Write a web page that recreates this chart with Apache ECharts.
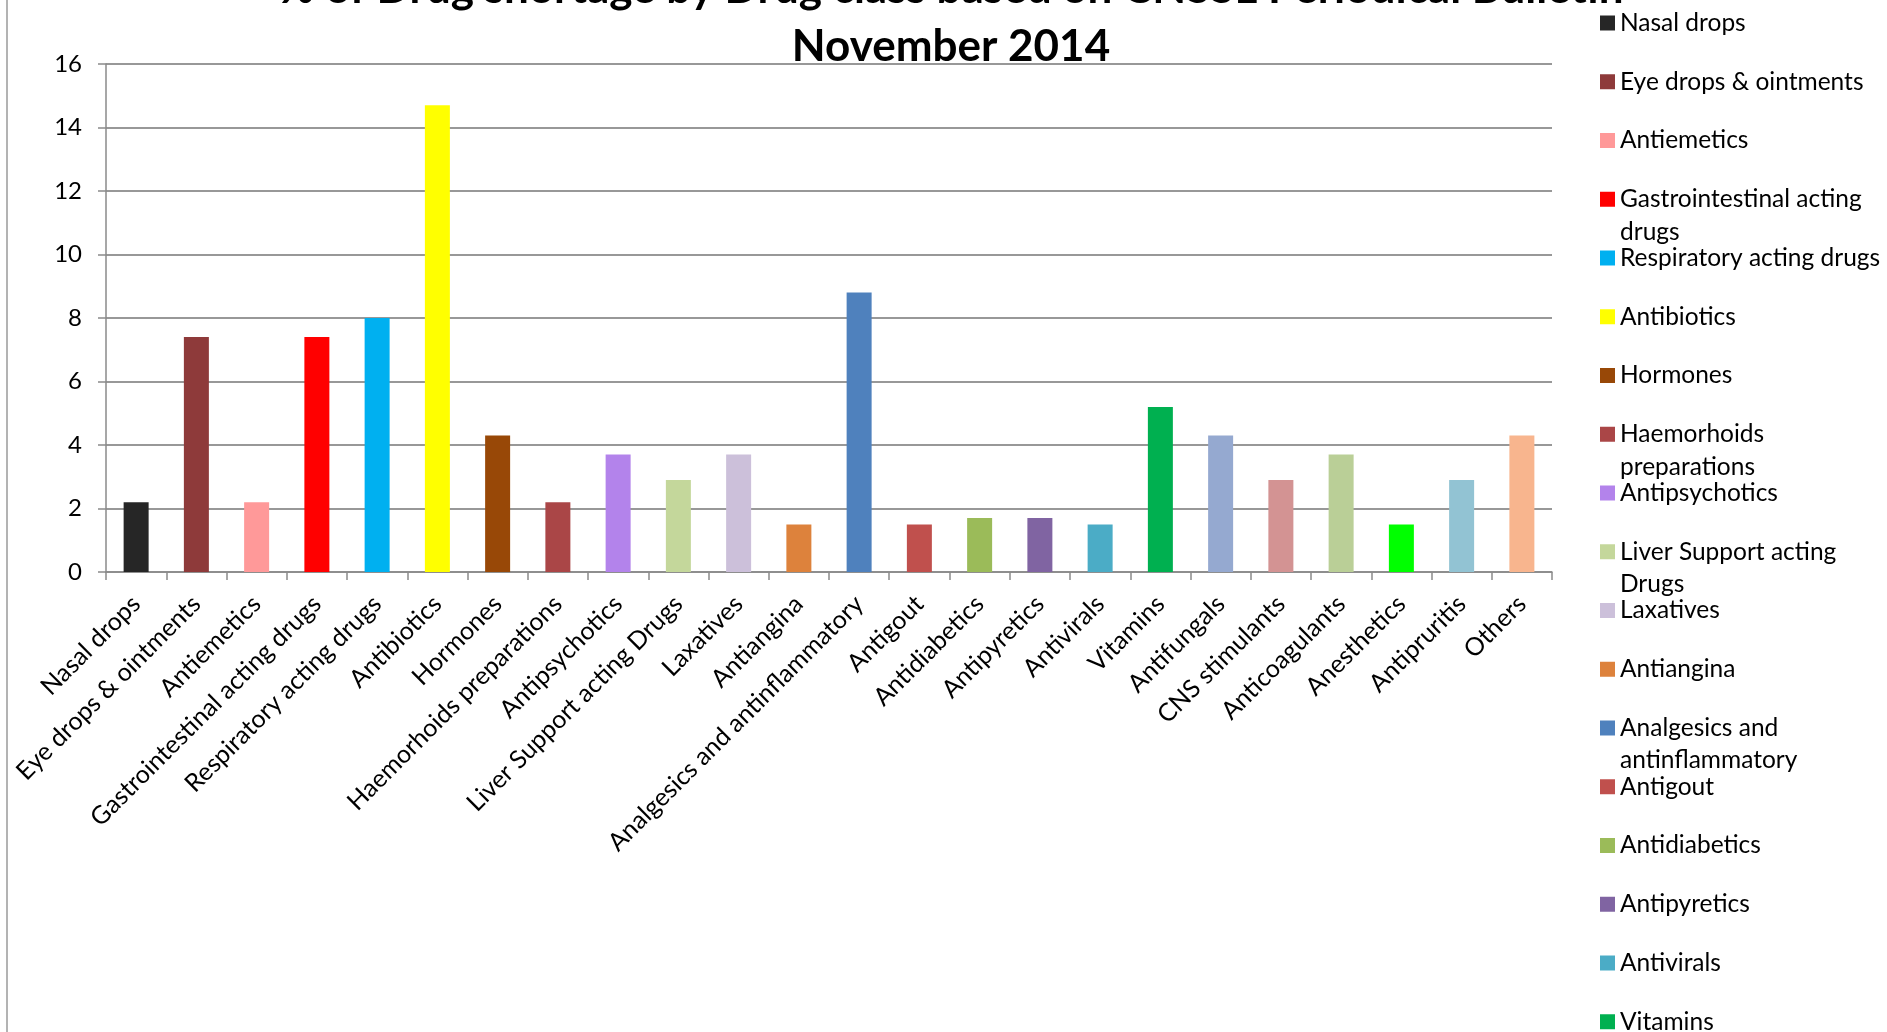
<!DOCTYPE html>
<html>
<head>
<meta charset="utf-8">
<script src="https://cdn.jsdelivr.net/npm/echarts@6/dist/echarts.min.js"></script>
<style>
html,body{margin:0;padding:0;background:#fff;}
#chart{width:1887px;height:1032px;}
</style>
</head>
<body>
<div id="chart"></div>
<script>
var categories = ["Nasal drops","Eye drops & ointments","Antiemetics","Gastrointestinal acting drugs","Respiratory acting drugs","Antibiotics","Hormones","Haemorhoids preparations","Antipsychotics","Liver Support acting Drugs","Laxatives","Antiangina","Analgesics and antinflammatory","Antigout","Antidiabetics","Antipyretics","Antivirals","Vitamins","Antifungals","CNS stimulants","Anticoagulants","Anesthetics","Antipruritis","Others"];
var values = [2.2,7.4,2.2,7.4,8.0,14.7,4.3,2.2,3.7,2.9,3.7,1.5,8.8,1.5,1.7,1.7,1.5,5.2,4.3,2.9,3.7,1.5,2.9,4.3];
var colors = ["#262626","#8E3A3A","#FF9999","#FF0000","#00B0F0","#FFFF00","#984807","#AA4647","#B383EB","#C4D79B","#CCC0DA","#DD823C","#4F81BD","#C0504D","#9BBB59","#8064A2","#4BACC6","#00B050","#95A9D0","#D39393","#BACF97","#00FF00","#92C3D3","#F8B58E"];
var yTicks = {min:0, max:16, interval:2};
// legend entries that wrap onto a second line: [first line, second line]
var legendWrap = {
  "Gastrointestinal acting drugs": ["Gastrointestinal acting", "drugs"],
  "Haemorhoids preparations": ["Haemorhoids", "preparations"],
  "Liver Support acting Drugs": ["Liver Support acting", "Drugs"],
  "Analgesics and antinflammatory": ["Analgesics and", "antinflammatory"]
};
var titleText = "% of Drug shortage by Drug class based on CNSSL Periodical Bulletin\nNovember 2014";

var LEG_LEFT = 1600, LEG_TOP = 7, LEG_LINE = 32, LEG_GAP = 26.75, LEG_FONT = 24.5, LEG_ICON = 15;

var series = categories.map(function(name, i){
  var d = categories.map(function(_, j){ return j === i ? values[i] : '-'; });
  return {
    name: name, type: 'bar', stack: 'all', data: d, barWidth: 25,
    itemStyle: {color: colors[i]}, emphasis: {disabled: true}
  };
});

var secondLines = [];
categories.forEach(function(name, i){
  if (legendWrap[name]) {
    secondLines.push({
      type: 'text', silent: true,
      x: LEG_LEFT + LEG_ICON + 5,
      y: LEG_TOP + LEG_LINE / 2 + i * (LEG_LINE + LEG_GAP) + 32.5,
      style: {text: legendWrap[name][1], fill: '#000', font: LEG_FONT + 'px Lato',
              textAlign: 'left', textVerticalAlign: 'middle'}
    });
  }
});

var chart = echarts.init(document.getElementById('chart'));
chart.setOption({
  animation: false,
  textStyle: {fontFamily: 'Lato'},
  title: {
    text: titleText, left: 951, textAlign: 'center', top: -40.5, padding: 0,
    textStyle: {fontFamily: 'Lato', fontWeight: 'bold', fontSize: 44, lineHeight: 58, color: '#000'}
  },
  legend: {
    orient: 'vertical', left: LEG_LEFT, top: LEG_TOP, padding: 0, height: 3000,
    itemWidth: LEG_ICON, itemHeight: LEG_ICON, itemGap: LEG_GAP, icon: 'rect',
    data: categories,
    formatter: function(n){ return legendWrap[n] ? legendWrap[n][0] : n; },
    textStyle: {fontFamily: 'Lato', fontSize: LEG_FONT, color: '#000', lineHeight: LEG_LINE},
    selectedMode: false
  },
  grid: {left: 106, right: 335, top: 64, bottom: 460, containLabel: false},
  xAxis: {
    type: 'category', data: categories,
    axisLine: {lineStyle: {color: '#8a8a8a', width: 1.5}},
    axisTick: {show: true, length: 8, lineStyle: {color: '#8a8a8a', width: 1.5}},
    axisLabel: {interval: 0, rotate: 45, fontSize: 25, color: '#000', fontFamily: 'Lato', margin: 28}
  },
  yAxis: {
    type: 'value', min: yTicks.min, max: yTicks.max, interval: yTicks.interval,
    axisLine: {show: true, lineStyle: {color: '#8a8a8a', width: 1.5}},
    axisTick: {show: true, length: 8, lineStyle: {color: '#8a8a8a', width: 1.5}},
    axisLabel: {fontSize: 24, color: '#000', fontFamily: 'Lato', margin: 24},
    splitLine: {lineStyle: {color: '#989898', width: 2}}
  },
  graphic: [{
    type: 'line', shape: {x1: 7, y1: 0, x2: 7, y2: 1032},
    style: {stroke: '#9a9a9a', lineWidth: 1.5}, silent: true
  }].concat(secondLines),
  series: series
});
</script>
</body>
</html>
